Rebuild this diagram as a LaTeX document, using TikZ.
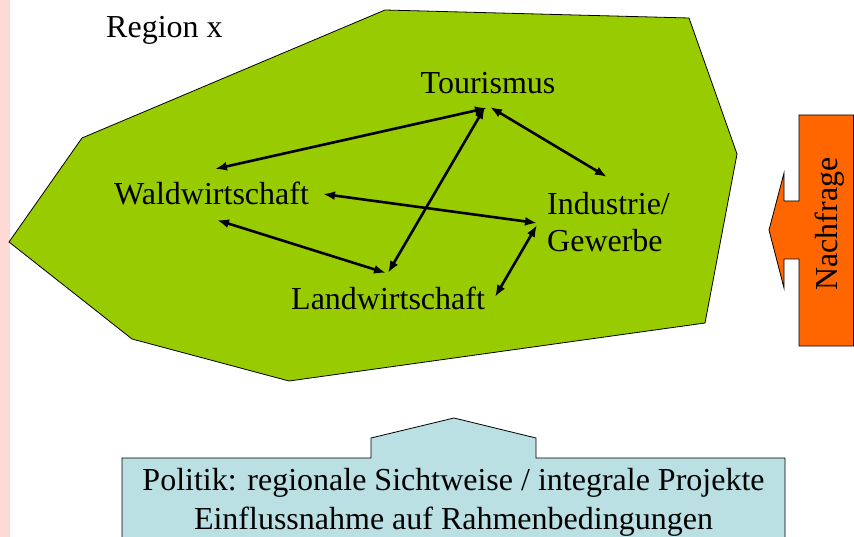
\documentclass[tikz,border=0pt]{standalone}
\usepackage{fontspec}
\setmainfont{Liberation Serif}
\usetikzlibrary{arrows.meta}
\definecolor{regiongreen}{HTML}{99CC00}
\definecolor{politikblue}{HTML}{BAE0E3}
\definecolor{nachfrageorange}{HTML}{FF6600}
\definecolor{stripepink}{HTML}{FFDAD4}
\begin{document}
\begin{tikzpicture}[x=1pt,y=-1pt,
  lbl/.style={inner sep=0pt, font=\fontsize{32}{37}\selectfont},
  conn/.style={line width=2.6pt, {Latex[length=12pt,width=9pt]}-{Latex[length=12pt,width=9pt]}},
  outline/.style={draw=black, line width=0.8pt, line join=miter}]
\useasboundingbox (0,0) rectangle (854,537);
% left stripe
\fill[stripepink] (0,0) rectangle (10,537);
% region polygon
\path[outline, fill=regiongreen] (385,10) -- (689,18) -- (737,154) -- (705,323) -- (289,381) -- (132,339) -- (9,242) -- (82,138) -- cycle;
% labels
\node[lbl, anchor=base west] (region) at (106,38) {Region x};
\node[lbl, anchor=base] (tour) at (488,94) {Tourismus};
\node[lbl, anchor=base west] (wald) at (114,205) {Waldwirtschaft};
\node[lbl, anchor=base west] (land) at (291,309) {Landwirtschaft};
\node[lbl, anchor=base west] (ind) at (547,215) {\begin{tabular}[t]{@{}l@{}}Industrie/\\Gewerbe\end{tabular}};
% arrow endpoints
\coordinate (tw) at (487,108);
\coordinate (wt) at (215,169);
\coordinate (ti) at (490,107);
\coordinate (it) at (607,177);
\coordinate (tl) at (485,107);
\coordinate (lt) at (388,273);
\coordinate (wi) at (323,194);
\coordinate (iw) at (537,223);
\coordinate (wl) at (217,220);
\coordinate (lw) at (386,273);
\coordinate (il) at (537,225);
\coordinate (li) at (495,297);
\draw[conn] (wt) -- (tw);
\draw[conn] (ti) -- (it);
\draw[conn] (tl) -- (lt);
\draw[conn] (wi) -- (iw);
\draw[conn] (wl) -- (lw);
\draw[conn] (il) -- (li);
% Nachfrage arrow
\path[outline, fill=nachfrageorange] (853.5,115) -- (799,115) -- (799,201) -- (784,201) -- (784,173) -- (769,230) -- (784,288) -- (784,259) -- (799,259) -- (799,346) -- (853.5,346) -- cycle;
\node[lbl, anchor=base, rotate=90] (nachfrage) at (837,224) {Nachfrage};
% Politik box
\path[outline, fill=politikblue] (122,545) -- (122,458) -- (371,458) -- (371,438) -- (454,418) -- (536,438) -- (536,458) -- (785,458) -- (785,545);
\node[inner sep=0pt, font=\fontsize{32}{39}\selectfont, anchor=base] (politik) at (453.5,490) {\begin{tabular}[t]{@{}c@{}}Politik: regionale Sichtweise / integrale Projekte\\Einflussnahme auf Rahmenbedingungen\end{tabular}};
\end{tikzpicture}
\end{document}
